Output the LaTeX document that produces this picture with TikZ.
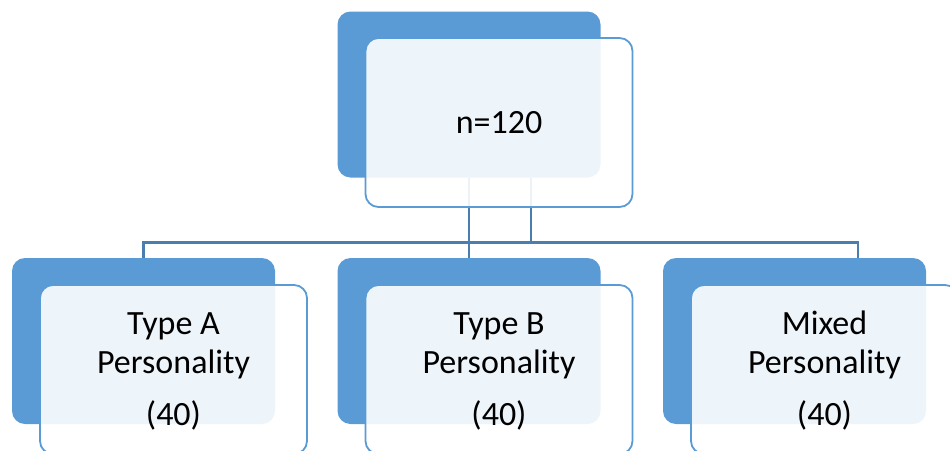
\documentclass[tikz,border=0pt]{standalone}
\usepackage{fontspec}
\setmainfont{Carlito}
\definecolor{bblue}{HTML}{5B9BD5}
\definecolor{lineblue}{HTML}{4A7DB0}
\pgfdeclarelayer{background}
\pgfsetlayers{background,main}
\tikzset{
  backbox/.style={fill=bblue, draw=none, rounded corners=13pt, inner sep=0pt,
    minimum width=263pt, minimum height=166pt},
  frontbox/.style={fill=white, fill opacity=0.9, text opacity=1, draw=bblue, line width=1.8pt,
    rounded corners=13pt, inner sep=0pt, minimum width=267pt, minimum height=169pt},
  label/.style={font=\fontsize{34}{39}\selectfont, align=center, inner sep=0pt},
  conn/.style={draw=lineblue, line width=2.4pt}
}
\begin{document}
\begin{tikzpicture}[x=1pt,y=-1pt]
\useasboundingbox (0,0) rectangle (950,450);
\clip (0,0) rectangle (950,450);
% top
\node[backbox] (tb) at (469,94.5) {};
\node[frontbox] (tf) at (499,122.5) {};
\node[label] (tt) at (499,122.5) {n=120};
% children back boxes
\node[backbox] (ab) at (143.5,341) {};
\node[backbox] (bb) at (469,341) {};
\node[backbox] (cb) at (794.5,341) {};
% children front boxes
\node[frontbox] (af) at (173.5,369.5) {};
\node[frontbox] (bf) at (499,369.5) {};
\node[frontbox] (cf) at (824.5,369.5) {};
% labels
\node[label] (at) at (173.5,371) {Type A\\Personality\\[13pt](40)};
\node[label] (bt) at (499,371) {Type B\\Personality\\[13pt](40)};
\node[label] (ct) at (824.5,371) {Mixed\\Personality\\[13pt](40)};
% connectors
\coordinate (hy) at (0,242.5);
\coordinate (ts) at (531,0);
\coordinate (cx) at (858,0);
\begin{pgfonlayer}{background}
\draw[conn] (tb.south) -- (bb.north);
\draw[conn] (tb.south -| ts) -- (hy -| ts);
\draw[conn] (ab.north) -- (ab.north |- hy) -- (hy -| cx) -- (cb.north -| cx);
\end{pgfonlayer}
\end{tikzpicture}
\end{document}
